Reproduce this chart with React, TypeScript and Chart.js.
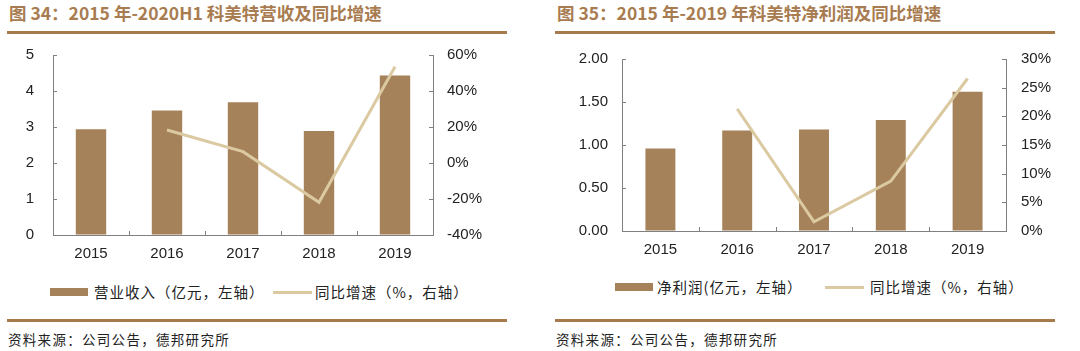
import React, { useEffect, useRef } from 'react';
import { Chart, registerables } from 'chart.js';

Chart.register(...registerables);

// ---------- data ----------
const categories = ['2015', '2016', '2017', '2018', '2019'];
const revenue = [2.94, 3.46, 3.69, 2.89, 4.43];
const revenueGrowth = [null, 18.3, 6.3, -21.8, 53.5];
const profit = [0.96, 1.17, 1.18, 1.29, 1.62];
const profitGrowth = [null, 21.3, 1.6, 8.7, 26.6];

const title1 = '图 34：2015 年-2020H1 科美特营收及同比增速';
const title2 = '图 35：2015 年-2019 年科美特净利润及同比增速';
const legendBar1 = '营业收入（亿元，左轴）';
const legendBar2 = '净利润(亿元，左轴）';
const legendLine = '同比增速（%，右轴）';
const sourceText = '资料来源：公司公告，德邦研究所';

// ---------- style ----------
const BAR = '#a6825a';
const LINE = '#dbc9a1';
const AXIS = '#808080';
const TITLE = '#a87c50';
const RULE = '#a77a4b';
const TICK_FONT = { family: '"Liberation Sans", Arial, sans-serif', size: 15 };
const CJK = '"Noto Sans CJK SC", "Liberation Sans", sans-serif';

const inwardTicks = {
  id: 'inwardTicks',
  afterDatasetsDraw(chart: any) {
    const ctx = chart.ctx;
    const { x, y, y1 } = chart.scales;
    const len = 4;
    ctx.save();
    ctx.strokeStyle = AXIS;
    ctx.lineWidth = 1;
    ctx.beginPath();
    const half = (x.getPixelForValue(1) - x.getPixelForValue(0)) / 2;
    for (let i = 0; i <= x.ticks.length; i++) {
      const px = Math.round(x.getPixelForValue(i) - half) + 0.5;
      ctx.moveTo(px, x.top);
      ctx.lineTo(px, x.top - len);
    }
    y.ticks.forEach((t: any) => {
      const py = Math.round(y.getPixelForValue(t.value)) + 0.5;
      ctx.moveTo(y.right, py);
      ctx.lineTo(y.right + len, py);
    });
    y1.ticks.forEach((t: any) => {
      const py = Math.round(y1.getPixelForValue(t.value)) + 0.5;
      ctx.moveTo(y1.left, py);
      ctx.lineTo(y1.left - len, py);
    });
    ctx.stroke();
    ctx.restore();
  },
};

type ComboProps = {
  bars: number[];
  line: (number | null)[];
  barLabel: string;
  left: { min: number; max: number; step: number; fmt: (v: number) => string; width: number; pad: number };
  right: { min: number; max: number; step: number; width: number; pad: number };
  topPad: number;
  xHeight: number;
  width: number;
  height: number;
  barPct: number;
};

function ComboChart(p: ComboProps) {
  const ref = useRef<HTMLCanvasElement>(null);
  useEffect(() => {
    if (!ref.current) return;
    const axisCommon = {
      grid: { display: true, drawOnChartArea: false, drawTicks: false },
      border: { display: true, color: AXIS, width: 1 },
    };
    const noPad = (s: any) => {
      s.paddingTop = 0;
      s.paddingBottom = 0;
      s.paddingLeft = 0;
      s.paddingRight = 0;
    };
    const chart = new Chart(ref.current, {
      type: 'bar',
      data: {
        labels: categories,
        datasets: [
          {
            type: 'line',
            label: legendLine,
            data: p.line as any,
            yAxisID: 'y1',
            borderColor: LINE,
            backgroundColor: LINE,
            borderWidth: 3,
            pointRadius: 0,
            tension: 0,
            order: 0,
          } as any,
          {
            type: 'bar',
            label: p.barLabel,
            data: p.bars,
            yAxisID: 'y',
            backgroundColor: BAR,
            barPercentage: p.barPct,
            categoryPercentage: 1,
            order: 1,
          },
        ],
      },
      options: {
        animation: false,
        responsive: false,
        maintainAspectRatio: false,
        layout: { padding: { top: p.topPad, left: 0, right: 0, bottom: 0 } },
        plugins: { legend: { display: false }, tooltip: { enabled: false } },
        scales: {
          x: {
            ...axisCommon,
            ticks: { font: TICK_FONT, color: '#222', padding: 10, maxRotation: 0 },
            afterFit: (s: any) => { s.height = p.xHeight; noPad(s); },
          },
          y: {
            ...axisCommon,
            position: 'left',
            min: p.left.min,
            max: p.left.max,
            ticks: { stepSize: p.left.step, font: TICK_FONT, color: '#222', padding: p.left.pad, callback: (v: any) => p.left.fmt(Number(v)) },
            afterFit: (s: any) => { s.width = p.left.width; noPad(s); },
          },
          y1: {
            ...axisCommon,
            position: 'right',
            min: p.right.min,
            max: p.right.max,
            ticks: { stepSize: p.right.step, font: TICK_FONT, color: '#222', padding: p.right.pad, callback: (v: any) => `${v}%` },
            afterFit: (s: any) => { s.width = p.right.width; noPad(s); },
          },
        },
      } as any,
      plugins: [inwardTicks],
    });
    return () => chart.destroy();
  }, []);
  return <canvas ref={ref} width={p.width} height={p.height} style={{ width: p.width, height: p.height, display: 'block' }} />;
}

function abs(left: number, top: number, extra: any = {}) {
  return { position: 'absolute' as const, left, top, ...extra };
}

type PanelProps = {
  x: number;
  chartX: number;
  title: string;
  barLegend: string;
  legendY: number;
  barSwatchX: number;
  barTextX: number;
  lineSwatchX: number;
  lineTextX: number;
  children: React.ReactNode;
};

function Panel(p: PanelProps) {
  return (
    <>
      <div style={abs(p.x + 2, 2, { font: `bold 17.5px ${CJK}`, color: TITLE, lineHeight: '22px', whiteSpace: 'nowrap' })}>{p.title}</div>
      <div style={abs(p.x, 31, { width: 500, height: 3, background: RULE })} />
      <div style={abs(p.chartX, 40)}>{p.children}</div>
      <div style={abs(p.barSwatchX, p.legendY - 4, { width: 38, height: 8, background: BAR })} />
      <div style={abs(p.barTextX, p.legendY - 10, { font: `14.5px ${CJK}`, letterSpacing: '1px', color: '#222', lineHeight: '20px', whiteSpace: 'nowrap' })}>{p.barLegend}</div>
      <div style={abs(p.lineSwatchX, p.legendY - 1.5, { width: 39, height: 3, background: LINE })} />
      <div style={abs(p.lineTextX, p.legendY - 10, { font: `14.5px ${CJK}`, letterSpacing: '1px', color: '#222', lineHeight: '20px', whiteSpace: 'nowrap' })}>{legendLine}</div>
      <div style={abs(p.x, 319, { width: 500, height: 3, background: RULE })} />
      <div style={abs(p.x + 1, 329, { font: `13.5px ${CJK}`, letterSpacing: '1.3px', color: '#222', lineHeight: '20px', whiteSpace: 'nowrap' })}>{sourceText}</div>
    </>
  );
}

export default function App() {
  return (
    <div style={{ position: 'absolute', left: 0, top: 0, width: 1080, height: 351, background: '#fff', overflow: 'hidden' }}>
      <Panel x={7} chartX={0} title={title1} barLegend={legendBar1} legendY={292} barSwatchX={50} barTextX={94} lineSwatchX={273} lineTextX={315}>
        <ComboChart
          bars={revenue}
          line={revenueGrowth}
          barLabel={legendBar1}
          left={{ min: 0, max: 5, step: 1, fmt: (v) => String(v), width: 53, pad: 19 }}
          right={{ min: -40, max: 60, step: 20, width: 67, pad: 14 }}
          topPad={15}
          xHeight={35}
          width={500}
          height={230}
          barPct={0.4}
        />
      </Panel>
      <Panel x={555} chartX={540} title={title2} barLegend={legendBar2} legendY={287} barSwatchX={615} barTextX={657} lineSwatchX={825} lineTextX={870}>
        <ComboChart
          bars={profit}
          line={profitGrowth}
          barLabel={legendBar2}
          left={{ min: 0, max: 2, step: 0.5, fmt: (v) => v.toFixed(2), width: 82, pad: 14 }}
          right={{ min: 0, max: 30, step: 5, width: 74, pad: 15 }}
          topPad={19}
          xHeight={39}
          width={540}
          height={230}
          barPct={0.39}
        />
      </Panel>
    </div>
  );
}
